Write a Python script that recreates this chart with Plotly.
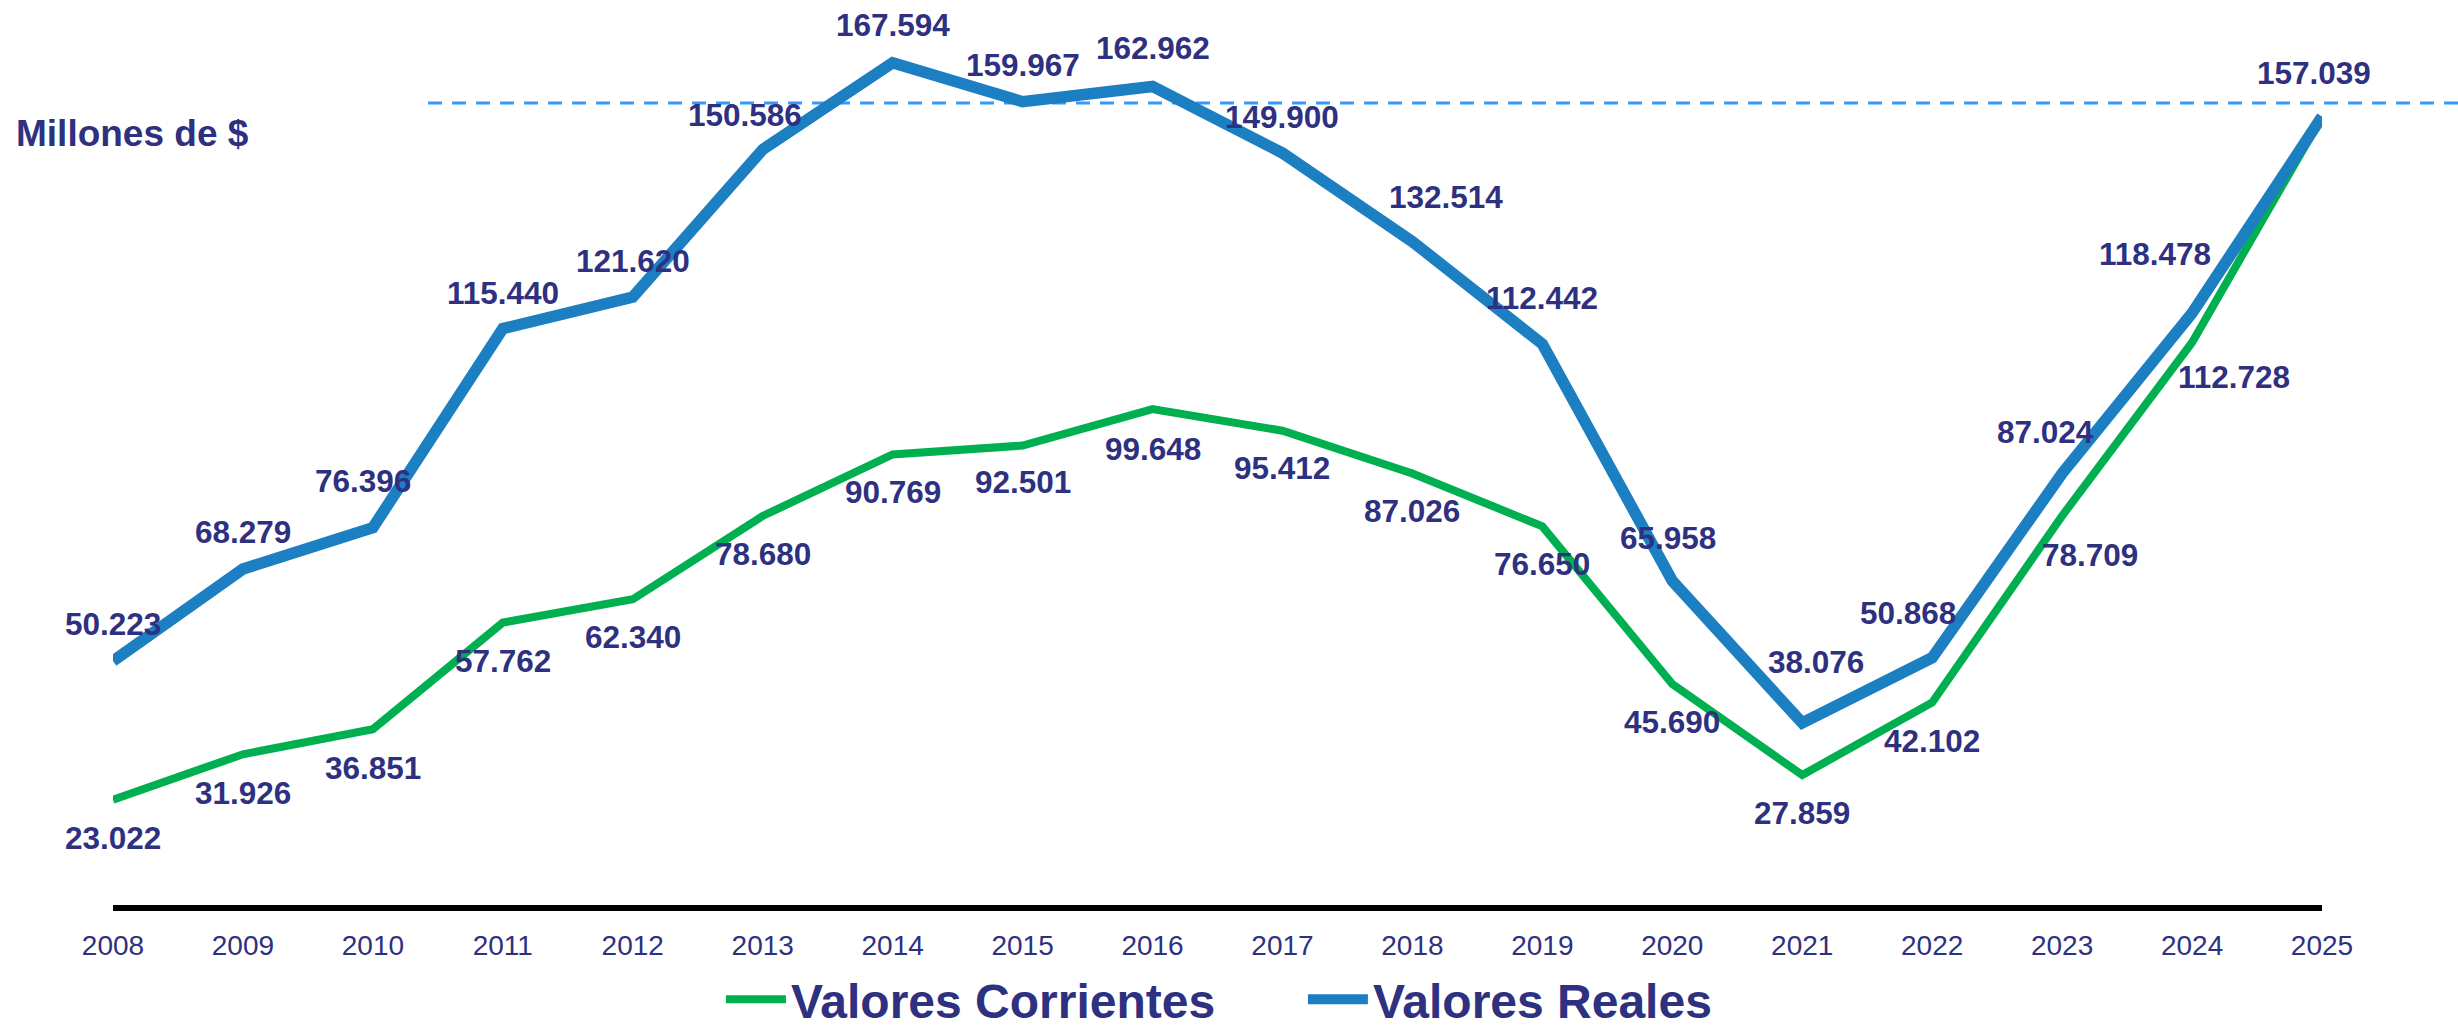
import plotly.graph_objects as go

# ---- data ----
years = [2008, 2009, 2010, 2011, 2012, 2013, 2014, 2015, 2016,
         2017, 2018, 2019, 2020, 2021, 2022, 2023, 2024, 2025]
tick_labels = [str(y) for y in years]
valores_corrientes = [23.022, 31.926, 36.851, 57.762, 62.340, 78.680, 90.769, 92.501, 99.648,
                      95.412, 87.026, 76.650, 45.690, 27.859, 42.102, 78.709, 112.728, 157.039]
valores_reales = [50.223, 68.279, 76.396, 115.440, 121.620, 150.586, 167.594, 159.967, 162.962,
                  149.900, 132.514, 112.442, 65.958, 38.076, 50.868, 87.024, 118.478, 157.039]
reference_level = 159.7
series_names = ["Valores Corrientes", "Valores Reales"]
unit_label = "Millones de $"

# ---- label offsets (pixels: dx right, dy down) ----
off_reales = [(0, -37), (0, -37), (-10, -47), (0, -36), (0, -36), (-18, -35), (0, -38), (0, -37),
              (0, -38), (0, -36), (34, -45), (0, -46), (-4, -43), (14, -61), (-24, -45),
              (-17, -41), (-37, -59), (-8, -44)]
off_corr = [(0, 38), (0, 39), (0, 39), (0, 38), (0, 38), (0, 38), (0, 38), (0, 36),
            (0, 40), (0, 37), (0, 38), (0, 38), (0, 38), (0, 38), (0, 39),
            (28, 39), (42, 35), None]

NAVY = "#2E3080"
GREEN = "#00B050"
BLUE = "#1B7FC2"
FONT = "Liberation Sans, Arial, Helvetica, sans-serif"

fig = go.Figure()
fig.add_trace(go.Scatter(x=years, y=valores_corrientes, mode="lines", name=series_names[0],
                         line=dict(color=GREEN, width=8), hoverinfo="x+y"))
fig.add_trace(go.Scatter(x=years, y=valores_reales, mode="lines", name=series_names[1],
                         line=dict(color=BLUE, width=11.5), hoverinfo="x+y"))

annotations = []
for vals, offs in ((valores_reales, off_reales), (valores_corrientes, off_corr)):
    for x, v, o in zip(years, vals, offs):
        if o is None:
            continue
        annotations.append(dict(x=x, y=v, xref="x", yref="y", text=f"{v:.3f}",
                                showarrow=False, xshift=o[0], yshift=-o[1],
                                font=dict(family=FONT, size=31.5, color=NAVY, weight="bold")))

annotations.append(dict(x=-0.045, y=0.874, xref="paper", yref="paper", xanchor="left",
                        yanchor="middle", text=unit_label, showarrow=False,
                        font=dict(family=FONT, size=37, color=NAVY, weight="bold")))

fig.update_layout(
    width=2458, height=1030,
    margin=dict(l=113, r=136, t=20, b=113, autoexpand=False),
    plot_bgcolor="white", paper_bgcolor="white",
    annotations=annotations,
    shapes=[dict(type="line", xref="paper", yref="y", x0=0.1426, x1=1.07,
                 y0=reference_level, y1=reference_level,
                 line=dict(color="#3399FF", width=3, dash="14px,10px"), layer="below")],
    showlegend=True,
    legend=dict(orientation="h", x=0.2752, xanchor="left", y=-0.092, yanchor="middle",
                font=dict(family=FONT, size=48, color=NAVY, weight="bold"),
                bgcolor="rgba(0,0,0,0)", itemwidth=60, entrywidth=507),
    xaxis=dict(range=[2008, 2025], tickvals=years, ticktext=tick_labels, automargin=False,
               showgrid=False, zeroline=False, showline=True, linecolor="black", linewidth=6,
               anchor="free", position=0.01, ticks="", ticklabelstandoff=10,
               tickfont=dict(family=FONT, size=28, color=NAVY)),
    yaxis=dict(range=[0, 176], visible=False, showgrid=False, zeroline=False, automargin=False),
)

fig.write_html("out.html", config={"displayModeBar": False},
               post_script="document.body.style.margin='0';document.body.style.overflow='hidden';")
